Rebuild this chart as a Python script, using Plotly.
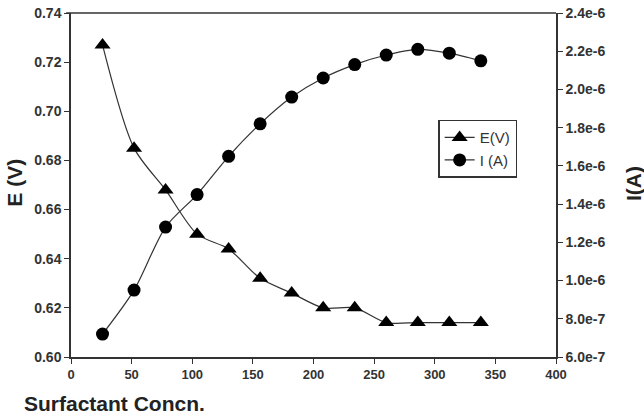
import plotly.graph_objects as go

conc = [26, 52, 78, 104, 130, 156, 182, 208, 234, 260, 286, 312, 338]
E_V = [0.727, 0.685, 0.668, 0.650, 0.644, 0.632, 0.626, 0.620, 0.620, 0.614, 0.614, 0.614, 0.614]
I_A = [7.2e-7, 9.5e-7, 1.28e-6, 1.45e-6, 1.65e-6, 1.82e-6, 1.96e-6, 2.06e-6, 2.13e-6, 2.18e-6, 2.21e-6, 2.19e-6, 2.15e-6]

x_ticks = [0, 50, 100, 150, 200, 250, 300, 350, 400]
e_ticks = [0.60, 0.62, 0.64, 0.66, 0.68, 0.70, 0.72, 0.74]
i_ticks = [6e-7, 8e-7, 1.0e-6, 1.2e-6, 1.4e-6, 1.6e-6, 1.8e-6, 2.0e-6, 2.2e-6, 2.4e-6]
i_ticktext = ["6.0e-7", "8.0e-7", "1.0e-6", "1.2e-6", "1.4e-6", "1.6e-6", "1.8e-6", "2.0e-6", "2.2e-6", "2.4e-6"]

font_family = "Liberation Sans, Arial, sans-serif"
tick_font = dict(family=font_family, size=14, color="#333333")
title_font = dict(family=font_family, size=21, color="#222222")
axcol = "#333333"

fig = go.Figure()
fig.add_trace(go.Scatter(
    x=conc, y=E_V, name="E(V)", mode="lines+markers",
    line=dict(color="#333333", width=1.2, shape="spline", smoothing=0.8),
    marker=dict(symbol="triangle-up", size=14, color="black"),
    yaxis="y"))
fig.add_trace(go.Scatter(
    x=conc, y=I_A, name="I (A)", mode="lines+markers",
    line=dict(color="#333333", width=1.2, shape="spline", smoothing=0.8),
    marker=dict(symbol="circle", size=13, color="black"),
    yaxis="y2"))

fig.update_layout(
    width=644, height=417,
    margin=dict(l=71, r=88, t=5, b=60),
    paper_bgcolor="white", plot_bgcolor="white",
    showlegend=True,
    legend=dict(x=0.757, y=0.69, xanchor="left", yanchor="top",
                bordercolor=axcol, borderwidth=1.5, bgcolor="white",
                font=dict(family=font_family, size=15, color="#333333"),
                tracegroupgap=0, itemwidth=30),
    xaxis=dict(range=[0, 400], tickvals=x_ticks, ticktext=["<b>%d</b>" % v for v in x_ticks],
               showgrid=False, zeroline=False, showline=True, linecolor=axcol, linewidth=1.5,
               ticks="outside", ticklen=5, tickcolor=axcol, tickfont=dict(family=font_family, size=13, color="#333333"),
               ticklabeloverflow="allow"),
    yaxis=dict(range=[0.60, 0.74], tickvals=e_ticks, ticktext=["<b>%.2f</b>" % v for v in e_ticks],
               showgrid=False, zeroline=False, showline=True, linecolor=axcol, linewidth=1.5,
               ticks="outside", ticklen=5, tickcolor=axcol, tickfont=tick_font,
               ticklabeloverflow="allow"),
    yaxis2=dict(range=[6e-7, 2.4e-6], tickvals=i_ticks, ticktext=["<b>%s</b>" % t for t in i_ticktext],
                overlaying="y", side="right",
                showgrid=False, zeroline=False, showline=True, linecolor=axcol, linewidth=1.5,
                ticks="outside", ticklen=5, tickcolor=axcol, tickfont=tick_font,
                ticklabeloverflow="allow"),
    shapes=[dict(type="line", xref="paper", yref="paper", x0=-0.01, x1=1, y0=1, y1=1,
                 line=dict(color=axcol, width=1.5))],
    annotations=[
        dict(text="<b>Surfactant Concn.</b>", xref="paper", yref="paper", x=0.0907, y=-0.136,
             xanchor="center", yanchor="middle", showarrow=False, font=title_font),
        dict(text="<b>E (V)</b>", xref="paper", yref="paper", x=-0.116, y=0.506,
             xanchor="center", yanchor="middle", textangle=-90, showarrow=False, font=title_font),
        dict(text="<b>I(A)</b>", xref="paper", yref="paper", x=1.161, y=0.503,
             xanchor="center", yanchor="middle", textangle=-90, showarrow=False, font=title_font),
    ],
)

fig.write_html("out.html")
